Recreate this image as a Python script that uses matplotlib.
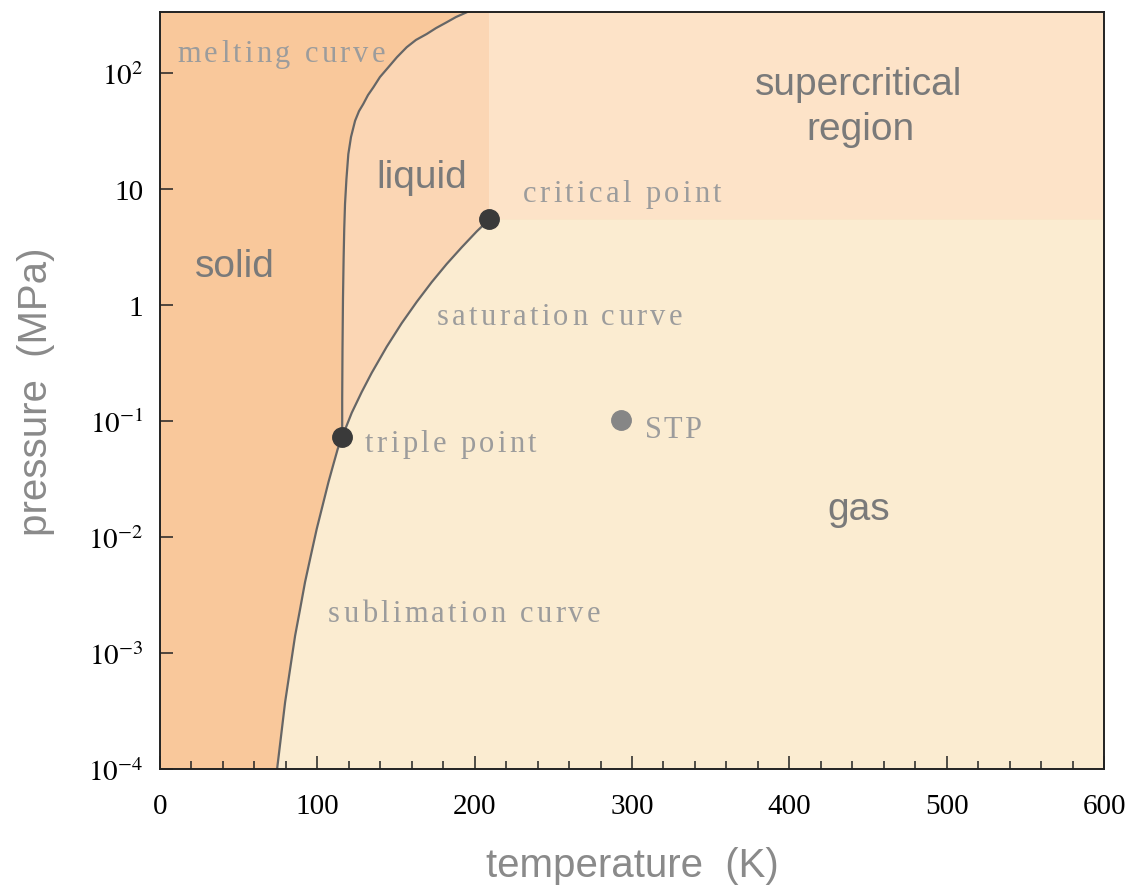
import numpy as np
import matplotlib
matplotlib.use('Agg')
import matplotlib.pyplot as plt
from matplotlib.font_manager import FontProperties
from matplotlib.textpath import TextToPath

# phase boundary data (T in K, p in MPa)
T_sub = [74.43, 76.97, 79.51, 82.69, 85.87, 89.05, 92.16, 95.85, 99.60, 103.32,
         107.04, 109.96, 112.95, 115.8]
p_sub = [1.0e-4, 1.937e-4, 3.758e-4, 7.28e-4, 1.409e-3, 2.394e-3, 4.069e-3, 6.899e-3,
         1.172e-2, 1.862e-2, 2.962e-2, 4.118e-2, 5.736e-2, 0.073]

T_sat = [115.8, 121.85, 128.2, 134.56, 144.1, 153.6, 163.2, 172.7, 182.2, 191.8,
         201.3, 209.4]
p_sat = [0.073, 0.1176, 0.1778, 0.2602, 0.4370, 0.6967, 1.066, 1.576, 2.257, 3.149,
         4.311, 5.5]

T_melt = [115.8, 115.8, 116.0, 116.3, 116.7, 117.1, 117.6, 118.5, 119.7, 121.4,
          124.0, 126.5, 129.2, 132.2, 135.6, 139.8, 145.1, 150.6, 156.8, 162.7,
          169.5, 175.4, 182.2, 188.1, 194.9, 198.3]
p_melt = [0.073, 0.155, 0.418, 1.13, 2.49, 4.52, 7.43, 12.2, 20.0, 28.1,
          38.8, 47.0, 54.1, 64.6, 75.3, 92.4, 112.0, 137.0, 167.0, 193.0,
          217.0, 244.0, 274.0, 304.0, 334.0, 356.0]

T_triple, p_triple = 115.8, 0.073
T_crit, p_crit = 209.4, 5.5
T_stp, p_stp = 293.15, 0.101325

x_ticks = [0, 100, 200, 300, 400, 500, 600]
y_ticks = [1e-4, 1e-3, 1e-2, 1e-1, 1, 10, 100]
y_labels = ['$10^{-4}$', '$10^{-3}$', '$10^{-2}$', '$10^{-1}$', '1', '10', '$10^{2}$']

plt.rcParams['mathtext.fontset'] = 'stix'

c_solid = '#f9c89b'
c_liquid = '#fbd6b4'
c_super = '#fde3c8'
c_gas = '#fbecd1'
c_line = '#666666'
c_ann = '#9c9c9c'
c_lab = '#7a7a7a'

xmin, xmax = 0, 600
ymin, ymax = 1e-4, 336
top = 1000

fig = plt.figure(figsize=(11.41, 8.87), dpi=100)
ax = fig.add_axes([160/1141, 117/887, 944/1141, 757/887])
ax.set_yscale('log')
ax.set_xlim(xmin, xmax)
ax.set_ylim(ymin, ymax)
ax.set_facecolor(c_solid)

# gas region
gx = [T_sub[0] - 5] + T_sub + T_sat[1:] + [xmax + 10, xmax + 10]
gy = [1e-6] + p_sub + p_sat[1:] + [p_crit, 1e-6]
ax.fill(gx, gy, color=c_gas, lw=0, zorder=1)

# liquid region
lx = T_sat + [T_crit, T_melt[-1]] + T_melt[::-1]
ly = p_sat + [top, top] + p_melt[::-1]
ax.fill(lx, ly, color=c_liquid, lw=0, zorder=1)

# supercritical region
ax.fill([T_crit, xmax + 10, xmax + 10, T_crit], [p_crit, p_crit, top, top],
        color=c_super, lw=0, zorder=1)

ax.plot(T_sub, p_sub, color=c_line, lw=1.6, zorder=3)
ax.plot(T_sat, p_sat, color=c_line, lw=1.6, zorder=3)
ax.plot(T_melt, p_melt, color=c_line, lw=1.6, zorder=3)

ax.plot([T_triple, T_crit], [p_triple, p_crit], 'o', color='#3a3a3a', ms=14, zorder=4)
ax.plot([T_stp], [p_stp], 'o', color='#868686', ms=14, zorder=4)

# serif notes, drawn letter by letter to get the loose spacing of the original
fp = FontProperties(family='Liberation Serif', size=22)
t2p = TextToPath()
def spaced(x, y, s, gap=3.3):
    for i, ch in enumerate(s):
        w = t2p.get_text_width_height_descent(s[:i], fp, ismath=False)[0] * 100 / 72
        ax.annotate(ch, xy=(x, y), xytext=(w + i * gap, 0), textcoords='offset pixels',
                    fontproperties=fp, color=c_ann, va='baseline', ha='left', zorder=4)

spaced(10.8, 127, 'melting curve')
spaced(230.7, 7.9, 'critical point')
spaced(176, 0.686, 'saturation curve')
spaced(130.3, 0.0551, 'triple point')
spaced(308.3, 0.0728, 'STP', gap=1.5)
spaced(106.8, 0.00189, 'sublimation curve')

sans = dict(family='Liberation Sans', color=c_lab, fontsize=28, va='baseline', ha='center')
ax.text(47.7, 1.78, 'solid', **sans)
ax.text(166.2, 10.4, 'liquid', **sans)
ax.text(444.3, 65.9, 'supercritical', **sans)
ax.text(444.9, 27.0, 'region', **sans)
ax.text(444.3, 0.01429, 'gas', **sans)

ax.set_xticks(x_ticks)
ax.set_xticks(np.arange(0, 601, 20), minor=True)
ax.set_yticks(y_ticks)
ax.set_yticklabels(y_labels)
ax.yaxis.set_minor_locator(matplotlib.ticker.NullLocator())
ax.tick_params(which='major', direction='in', length=9.5, width=1.1, color='#222222',
               labelsize=21)
ax.tick_params(axis='x', pad=17)
ax.tick_params(axis='y', pad=12)
ax.tick_params(which='minor', direction='in', length=5.5, width=1.1, color='#222222')
for lab in ax.get_xticklabels() + ax.get_yticklabels():
    lab.set_family('Liberation Serif')
for s in ax.spines.values():
    s.set_linewidth(1.4)
    s.set_color('#222222')
    s.set_zorder(5)

ax.set_xlabel('temperature  (K)', family='Liberation Sans', fontsize=29, color='#8a8a8a', labelpad=20)
ax.set_ylabel('pressure  (MPa)', family='Liberation Sans', fontsize=29, color='#8a8a8a', labelpad=24)

fig.savefig('out.png', dpi=100)
